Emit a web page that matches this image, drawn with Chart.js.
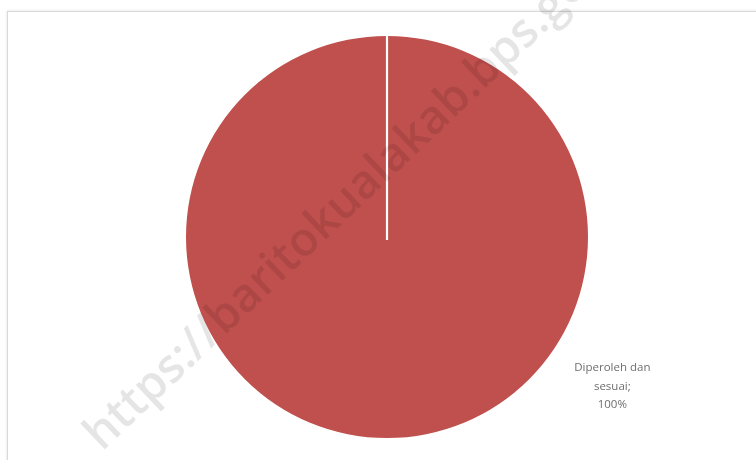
<!DOCTYPE html>
<html>
<head>
<meta charset="utf-8">
<script src="https://cdn.jsdelivr.net/npm/chart.js@4.4.1/dist/chart.umd.min.js"></script>
<style>
  html, body { margin: 0; padding: 0; background: #ffffff; }
  #wrap { position: relative; width: 756px; height: 460px; overflow: hidden; }
  #frame { position: absolute; left: 7px; top: 11px; width: 800px; height: 500px;
           border: 1px solid #d9d9d9; box-shadow: 0 0 3px rgba(0,0,0,0.12); }
  canvas { position: absolute; left: 0; top: 0; }
</style>
</head>
<body>
<div id="wrap">
  <div id="frame"></div>
  <canvas id="c" width="756" height="460"></canvas>
</div>
<script>
// Status categories and their shares (percent)
const categories = ['Diperoleh dan sesuai'];
const shares = [100];
const sliceColors = ['#C0504D'];
const sourceUrl = 'https://baritokualakab.bps.go.id';

// White separator from the centre to the slice start (the Excel-style edge)
const sliceEdge = {
  id: 'sliceEdge',
  afterDatasetDraw(chart) {
    const arc = chart.getDatasetMeta(0).data[0];
    if (!arc) return;
    const { x, y, outerRadius, startAngle } = arc.getProps(['x', 'y', 'outerRadius', 'startAngle'], true);
    const ctx = chart.ctx;
    ctx.save();
    ctx.strokeStyle = '#ffffff';
    ctx.lineWidth = 2.2;
    ctx.beginPath();
    ctx.moveTo(x, y + 3);
    ctx.lineTo(x + Math.cos(startAngle) * (outerRadius + 1), y + Math.sin(startAngle) * (outerRadius + 1));
    ctx.stroke();
    ctx.restore();
  }
};

// Data label: "category; percent" placed outside the lower right of the pie
const sliceLabels = {
  id: 'sliceLabels',
  afterDatasetDraw(chart) {
    const meta = chart.getDatasetMeta(0);
    const ctx = chart.ctx;
    meta.data.forEach((arc, i) => {
      const { x, y, outerRadius } = arc.getProps(['x', 'y', 'outerRadius'], true);
      const ang = Math.PI * 0.186; // below the horizontal, to the right
      const lx = x + Math.cos(ang) * outerRadius * 1.35;
      const ly = y + Math.sin(ang) * outerRadius * 1.35;
      const words = categories[i].split(' ');
      const lines = [words.slice(0, 2).join(' '), words.slice(2).join(' ') + ';', shares[i] + '%'];
      ctx.save();
      ctx.font = '11.5px "Open Sans", Lato, sans-serif';
      ctx.fillStyle = '#6e6e6e';
      ctx.textAlign = 'center';
      ctx.textBaseline = 'middle';
      lines.forEach((t, k) => ctx.fillText(t, lx - 1, ly + (k - 1) * 18.5));
      ctx.restore();
    });
  }
};

// Faint diagonal source URL across the chart
const sourceMark = {
  id: 'sourceMark',
  afterDraw(chart) {
    const ctx = chart.ctx;
    ctx.save();
    ctx.translate(102, 452);
    ctx.rotate(-43.5 * Math.PI / 180);
    ctx.font = '600 40px "Open Sans", sans-serif';
    // stretch so that "https://baritokualakab.bps.g" spans about 645px
    const prefixW = ctx.measureText(sourceUrl.slice(0, 28)).width;
    ctx.scale(645 / prefixW, 645 / prefixW);
    ctx.fillStyle = 'rgba(0,0,0,0.10)';
    ctx.textBaseline = 'alphabetic';
    ctx.fillText(sourceUrl, 0, 0);
    ctx.restore();
  }
};

new Chart(document.getElementById('c'), {
  type: 'pie',
  data: {
    labels: categories,
    datasets: [{
      data: shares,
      backgroundColor: sliceColors,
      borderWidth: 0
    }]
  },
  options: {
    responsive: false,
    animation: false,
    layout: { padding: { top: 36, bottom: 22, left: 18, right: 0 } },
    plugins: {
      legend: { display: false },
      tooltip: { enabled: false }
    }
  },
  plugins: [sliceEdge, sliceLabels, sourceMark]
});
</script>
</body>
</html>
